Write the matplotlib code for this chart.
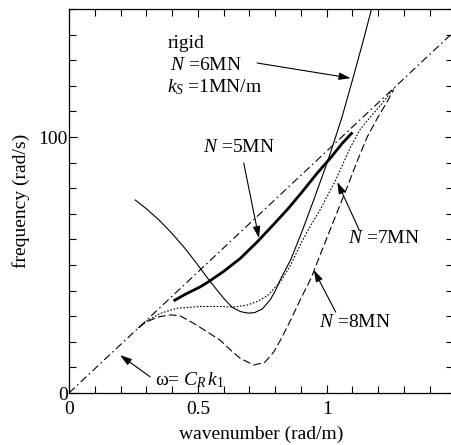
import numpy as np
import matplotlib
matplotlib.use("Agg")
import matplotlib.pyplot as plt
from matplotlib.ticker import MultipleLocator, FixedLocator

plt.rcParams['font.family'] = ['Liberation Serif', 'DejaVu Serif']
plt.rcParams['mathtext.fontset'] = 'custom'
plt.rcParams['mathtext.rm'] = 'Liberation Serif'
plt.rcParams['mathtext.it'] = 'Liberation Serif:italic'

# データ
# Rayleigh 線 ω = C_R k
k_R = [0.0, 1.49]
w_R = [0.0, 140.8]

# rigid, N=6MN
k_rigid = [0.257, 0.3, 0.35, 0.4, 0.45, 0.5, 0.542, 0.6, 0.633, 0.665, 0.695, 0.72,
           0.75, 0.78, 0.8, 0.821, 0.86, 0.9, 0.95, 1.0, 1.016, 1.06, 1.1, 1.14, 1.174]
w_rigid = [75.4, 72.0, 67.5, 62.3, 56.5, 50.0, 44.3, 37.0, 33.5, 31.8, 31.2, 31.4,
           32.8, 36.3, 39.8, 44.5, 52.0, 62.0, 75.5, 89.5, 94.3, 108.0, 122.3, 137.0, 150.0]

# N=5MN
k_5 = [0.406, 0.45, 0.51, 0.542, 0.6, 0.665, 0.73, 0.8, 0.85, 0.9, 0.96, 1.016, 1.06, 1.1]
w_5 = [36.0, 38.5, 41.5, 43.5, 47.5, 52.6, 59.0, 66.5, 72.0, 78.0, 85.5, 92.0, 97.5, 101.8]

# N=7MN
k_7 = [0.27, 0.3, 0.354, 0.419, 0.51, 0.58, 0.639, 0.69, 0.73, 0.77, 0.821, 0.86,
       0.9, 0.938, 0.977, 1.035, 1.093, 1.13, 1.171, 1.21, 1.26]
w_7 = [25.5, 28.0, 31.1, 33.1, 33.8, 33.8, 33.6, 34.3, 35.7, 38.0, 43.5, 50.0,
       58.5, 65.5, 72.0, 83.2, 96.2, 103.0, 108.0, 112.5, 119.0]

# N=8MN
k_8 = [0.27, 0.3, 0.35, 0.393, 0.43, 0.484, 0.53, 0.588, 0.63, 0.665, 0.717, 0.76,
       0.795, 0.825, 0.86, 0.9, 0.94, 0.977, 1.03, 1.08, 1.12, 1.158, 1.2, 1.23, 1.26]
w_8 = [25.5, 27.8, 29.8, 30.5, 30.2, 27.2, 24.3, 20.5, 16.5, 13.5, 10.9, 12.0,
       16.1, 21.5, 28.5, 37.0, 45.0, 54.6, 68.0, 80.6, 91.0, 100.2, 108.0, 113.0, 118.5]

# グラフの描画
fig = plt.figure(figsize=(4.52, 4.45), dpi=100)
ax = fig.add_axes([69/452, 52/445, 384/452, 384/445])

ax.plot(k_R, w_R, color='black', lw=0.8, dashes=(7, 3, 1.5, 3))
ax.plot(k_rigid, w_rigid, color='black', lw=0.8)
ax.plot(k_5, w_5, color='black', lw=2.0, solid_capstyle='butt')
ax.plot(k_7, w_7, color='black', lw=0.8, dashes=(1.5, 1.5))
ax.plot(k_8, w_8, color='black', lw=0.8, dashes=(7, 3))

ax.set_xlim(0, 1.49)
ax.set_ylim(0, 150)

ax.xaxis.set_major_locator(FixedLocator([0, 0.5, 1]))
ax.xaxis.set_minor_locator(MultipleLocator(0.1))
ax.yaxis.set_major_locator(FixedLocator([0, 100]))
ax.yaxis.set_minor_locator(MultipleLocator(10))
ax.set_xticklabels(['0', '0.5', '1'])
ax.set_yticklabels(['0', '100'])
ax.tick_params(which='both', direction='in', top=True, right=True, labelsize=14)
ax.tick_params(axis='x', which='both', pad=5.5)
ax.tick_params(axis='y', which='both', pad=1)
ax.tick_params(which='major', length=6, width=0.8)
ax.tick_params(which='minor', length=5, width=0.8)
for s in ax.spines.values():
    s.set_linewidth(0.9)

ax.set_xlabel('wavenumber (rad/m)', fontsize=14, labelpad=6)
ax.set_ylabel('frequency (rad/s)', fontsize=14, labelpad=6)

fs = 14
ax.text(0.381, 136.7, 'rigid', fontsize=fs, va='center')
ax.text(0.393, 128.0, r'$N$ =6MN', fontsize=fs, va='center')
ax.text(0.381, 119.5, r'$k_S$ =1MN/m', fontsize=fs, va='center')
ax.text(0.521, 96.0, r'$N$ =5MN', fontsize=fs, va='center')
ax.text(1.082, 60.5, r'$N$ =7MN', fontsize=fs, va='center')
ax.text(0.969, 27.7, r'$N$ =8MN', fontsize=fs, va='center')
ax.text(0.335, 5.1, r'ω= $C_R\,k_1$', fontsize=fs, va='center')

ap = dict(arrowstyle='-|>,head_length=0.7,head_width=0.22', color='black', lw=0.8,
          shrinkA=0, shrinkB=0)
ax.annotate('', xy=(1.093, 123.0), xytext=(0.73, 128.9), arrowprops=ap)
ax.annotate('', xy=(0.737, 60.5), xytext=(0.678, 89.8), arrowprops=ap)
ax.annotate('', xy=(1.041, 82.4), xytext=(1.126, 63.7), arrowprops=ap)
ax.annotate('', xy=(0.95, 48.0), xytext=(1.035, 31.6), arrowprops=ap)
ax.annotate('', xy=(0.198, 14.8), xytext=(0.315, 6.3), arrowprops=ap)

fig.savefig('out.png', dpi=100)
